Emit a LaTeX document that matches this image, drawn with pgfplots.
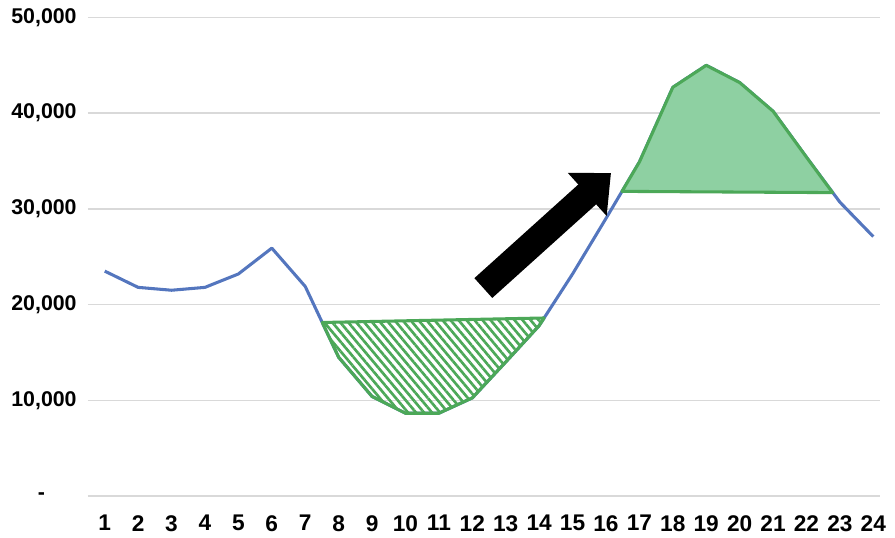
\documentclass[border=0pt]{standalone}
\usepackage{fontspec}
\setmainfont{Liberation Sans}
\usepackage{pgfplots}
\pgfplotsset{compat=1.18}
\usetikzlibrary{arrows.meta,patterns.meta}
\definecolor{lineblue}{RGB}{84,118,190}
\definecolor{edgegreen}{RGB}{76,168,88}
\definecolor{fillgreen}{RGB}{142,208,162}
\definecolor{gridgray}{RGB}{217,217,217}
\begin{document}
\begin{tikzpicture}
\useasboundingbox (-66pt,-30.75pt) rectangle (605.25pt,372pt);
\begin{axis}[
  at={(0,0)}, anchor=south west,
  scale only axis, width=594pt, height=358.9pt,
  xmin=0.5, xmax=24.2, ymin=0, ymax=50000,
  axis line style={draw=none}, major tick length=0pt,
  ymajorgrids, grid style={gridgray, line width=1.1pt},
  xtick={1,...,24}, ytick={0,10000,20000,30000,40000,50000},
  scaled y ticks=false,
  yticklabels={{\makebox[29pt][l]{-}},{10,000},{20,000},{30,000},{40,000},{50,000}},
  /pgf/number format/assume math mode=true,
  ticklabel style={font=\bfseries\fontsize{16}{18}\selectfont},
  xticklabel style={yshift=-11pt, font=\bfseries\fontsize{17}{19}\selectfont},
  yticklabel style={xshift=-5pt},
  clip=false,
]
% demand line
\addplot[lineblue, line width=2.3pt, mark=none, line join=round] coordinates {
 (1,23500) (2,21800) (3,21500) (4,21800) (5,23200) (6,25900) (7,21900) (8,14500)
 (9,10400) (10,8650) (11,8650) (12,10250) (13,14000) (14,17800) (15,23200) (16,29000)
 (17,34900) (18,42700) (19,45000) (20,43200) (21,40200) (22,35400) (23,30700) (24,27100)
};
% valley (hatched)
\addplot[draw=edgegreen, line width=2.3pt, mark=none, line join=round,
  pattern={Lines[angle=-50, distance=4.6pt, line width=2pt]}, pattern color=edgegreen]
 coordinates {
 (7.51,18130) (8,14500) (9,10400) (10,8650) (11,8650) (12,10250) (13,14000) (14,17800) (14.15,18600)
} -- cycle;
% peak (filled)
\addplot[draw=edgegreen, line width=2.3pt, mark=none, line join=round, fill=fillgreen]
 coordinates {
 (16.48,31830) (17,34900) (18,42700) (19,45000) (20,43200) (21,40200) (22,35400) (22.78,31700)
} -- cycle;
% arrow
\draw[black, line width=20pt, -{Triangle[length=24pt, width=42pt]}]
  (axis cs:12.33,21730) -- (axis cs:16.15,33750);
\end{axis}
\end{tikzpicture}
\end{document}
